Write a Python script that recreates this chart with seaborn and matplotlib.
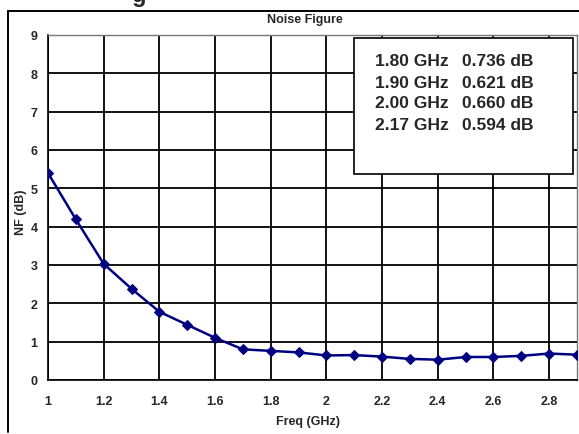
import matplotlib
matplotlib.use("Agg")
import matplotlib.pyplot as plt
from matplotlib.lines import Line2D
from matplotlib.patches import Rectangle
import pandas as pd
import seaborn as sns

# Measured noise figure vs frequency
freq_ghz = [1.0, 1.1, 1.2, 1.3, 1.4, 1.5, 1.6, 1.7, 1.8, 1.9,
            2.0, 2.1, 2.2, 2.3, 2.4, 2.5, 2.6, 2.7, 2.8, 2.9]
nf_db = [5.40, 4.19, 3.03, 2.38, 1.78, 1.44, 1.10, 0.80, 0.76, 0.72,
         0.64, 0.65, 0.61, 0.55, 0.53, 0.60, 0.60, 0.63, 0.69, 0.66]

# Spot values listed in the inset box
spot_freqs = ["1.80 GHz", "1.90 GHz", "2.00 GHz", "2.17 GHz"]
spot_nf = ["0.736 dB", "0.621 dB", "0.660 dB", "0.594 dB"]

x_ticks = [1, 1.2, 1.4, 1.6, 1.8, 2, 2.2, 2.4, 2.6, 2.8]
x_tick_labels = ["1", "1.2", "1.4", "1.6", "1.8", "2", "2.2", "2.4", "2.6", "2.8"]
y_ticks = list(range(0, 10))

sns.set_style("white")
plt.rcParams["font.family"] = ["Liberation Sans", "DejaVu Sans"]
plt.rcParams["font.weight"] = "bold"

W, H = 579, 435
fig = plt.figure(figsize=(W / 100, H / 100), dpi=100)
ax = fig.add_axes([48 / W, 1 - 381 / H, (577 - 48) / W, (381 - 36) / H])

df = pd.DataFrame({"Freq (GHz)": freq_ghz, "NF (dB)": nf_db})
sns.lineplot(data=df, x="Freq (GHz)", y="NF (dB)", ax=ax, color="#000080",
             linewidth=1.8, marker="D", markersize=5.5,
             markeredgecolor="#000080", markerfacecolor="#000080", zorder=5)

ax.set_xlim(1, 2.9)
ax.set_ylim(0, 9)
ax.set_xticks(x_ticks)
ax.set_xticklabels(x_tick_labels)
ax.set_yticks(y_ticks)
ax.grid(True, color="black", linewidth=1.3)
ax.tick_params(axis="both", which="major", direction="out", length=3.5,
               width=1.0, color="black", labelsize=9)
ax.tick_params(axis="y", pad=4)
ax.tick_params(axis="x", pad=7)
for lab in ax.get_xticklabels() + ax.get_yticklabels():
    lab.set_fontweight("bold")

ax.set_xlabel("Freq (GHz)", fontsize=9, fontweight="bold")
ax.set_ylabel("NF (dB)", fontsize=9, fontweight="bold")
ax.xaxis.label.set_va("center")
ax.yaxis.label.set_va("center")
ax.xaxis.set_label_coords((308 - 48) / (577 - 48), (381 - 422) / (381 - 36))
ax.yaxis.set_label_coords((21 - 48) / (577 - 48), (381 - 212) / (381 - 36))

fig.text(305 / W, 1 - 20 / H, "Noise Figure", fontsize=9, fontweight="bold",
         ha="center", va="center")

for side in ["left", "bottom"]:
    ax.spines[side].set_color("black")
    ax.spines[side].set_linewidth(1.2)
for side in ["top", "right"]:
    ax.spines[side].set_color("#777777")
    ax.spines[side].set_linewidth(1.0)

# Outer chart frame (left and top edges)
fig.add_artist(Line2D([8 / W, 8 / W], [1 - 12 / H, 1 - 433 / H],
                      color="black", linewidth=1.4, transform=fig.transFigure))
fig.add_artist(Line2D([8 / W, 1.0], [1 - 12 / H, 1 - 12 / H],
                      color="black", linewidth=1.4, transform=fig.transFigure))

# Heading above the frame, mostly outside the canvas
fig.text(139 / W, 1 - 2 / H, "g", fontsize=17, fontweight="bold",
         ha="center", va="baseline")

# Inset box with spot noise figures
box = Rectangle((354 / W, 1 - 175 / H), (573 - 354) / W, (175 - 39) / H,
                transform=fig.transFigure, facecolor="white",
                edgecolor="black", linewidth=1.2, zorder=10)
fig.add_artist(box)
row_y = [62, 83, 104, 126]
for yy, f, v in zip(row_y, spot_freqs, spot_nf):
    fig.text(375 / W, 1 - yy / H, f, fontsize=12.5, fontweight="bold",
             ha="left", va="center", zorder=11)
    fig.text(462 / W, 1 - yy / H, v, fontsize=12.5, fontweight="bold",
             ha="left", va="center", zorder=11)

fig.savefig("out.png", dpi=100)
